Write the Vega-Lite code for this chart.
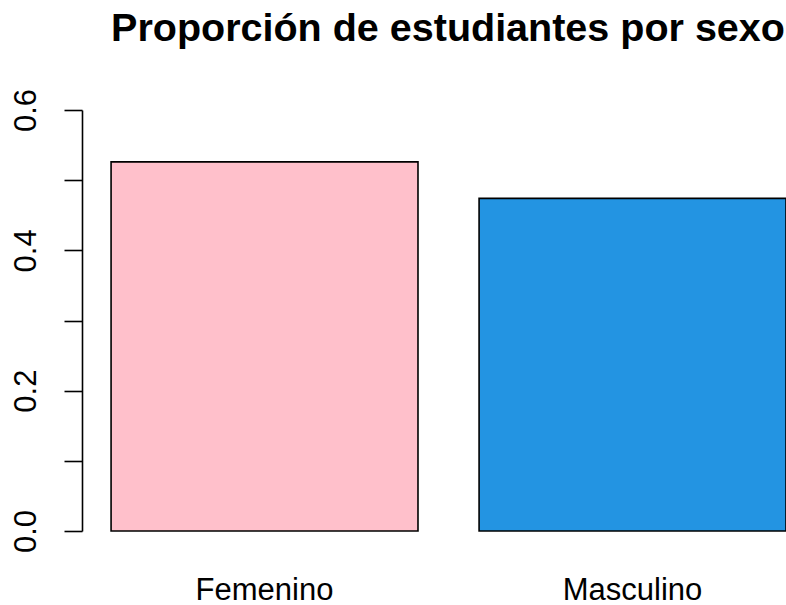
{
  "$schema": "https://vega.github.io/schema/vega-lite/v6.json",
  "autosize": "none",
  "width": 704,
  "height": 421,
  "padding": {"left": 82, "top": 110, "right": 0, "bottom": 74},
  "background": "white",
  "title": {
    "text": "Proporción de estudiantes por sexo",
    "font": "Liberation Sans",
    "fontSize": 39.5,
    "fontWeight": "bold",
    "color": "#000000",
    "anchor": "middle",
    "frame": "group",
    "baseline": "alphabetic",
    "offset": 8,
    "dx": 14
  },
  "config": {
    "view": {"stroke": null},
    "font": "Liberation Sans"
  },
  "data": {
    "values": [
      {"sexo": "Femenino", "proporcion": 0.526},
      {"sexo": "Masculino", "proporcion": 0.474}
    ]
  },
  "mark": {"type": "bar", "stroke": "#000000", "strokeWidth": 1.6, "clip": false},
  "encoding": {
    "x": {
      "field": "sexo",
      "type": "nominal",
      "sort": null,
      "scale": {"paddingInner": 0.166, "paddingOuter": 0.0395, "align": 1},
      "axis": {
        "title": null,
        "domain": false,
        "ticks": false,
        "labelAngle": 0,
        "labelFont": "Liberation Sans",
        "labelFontSize": 31,
        "labelColor": "#000000",
        "labelBaseline": "alphabetic",
        "labelPadding": 68
      }
    },
    "y": {
      "field": "proporcion",
      "type": "quantitative",
      "scale": {"domain": [0, 0.6], "nice": false, "zero": true},
      "axis": {
        "title": null,
        "grid": false,
        "values": [0, 0.1, 0.2, 0.3, 0.4, 0.5, 0.6],
        "labelExpr": "round(datum.value*10) % 2 == 0 ? format(datum.value, '.1f') : ''",
        "domainColor": "#000000",
        "domainWidth": 1.6,
        "tickColor": "#000000",
        "tickWidth": 1.6,
        "tickSize": 18,
        "labelAngle": -90,
        "labelAlign": "center",
        "labelBaseline": "alphabetic",
        "labelPadding": 29,
        "labelFont": "Liberation Sans",
        "labelFontSize": 31,
        "labelColor": "#000000",
        "labelOverlap": false
      }
    },
    "color": {
      "field": "sexo",
      "type": "nominal",
      "scale": {"domain": ["Femenino", "Masculino"], "range": ["#FFC0CB", "#2394E2"]},
      "legend": null
    }
  }
}
